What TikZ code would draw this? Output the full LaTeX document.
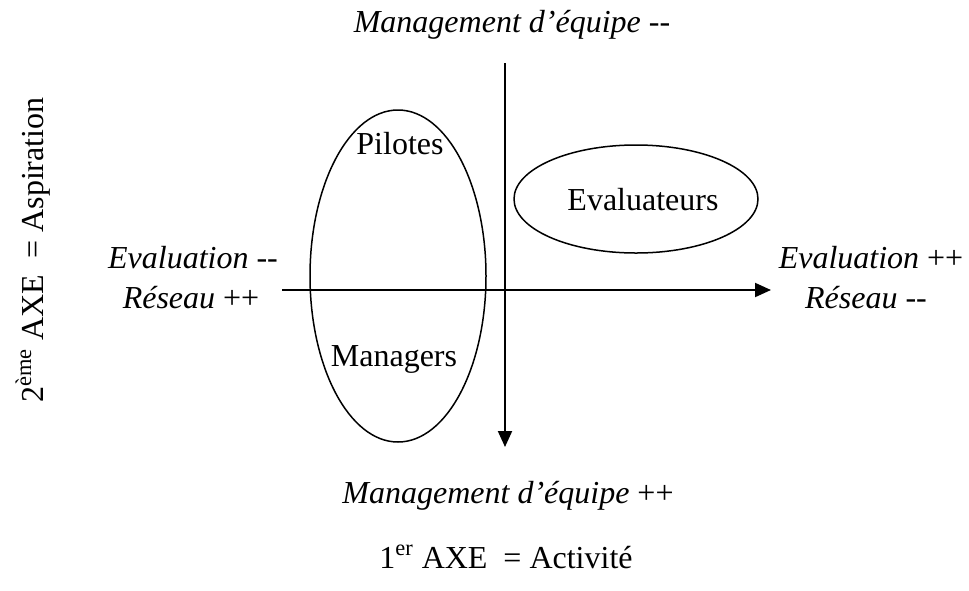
\documentclass[tikz,border=0pt]{standalone}
\usepackage{fontspec}
\setmainfont{Liberation Serif}
\usetikzlibrary{arrows.meta,shapes.geometric}
\newcommand{\sm}{\fontsize{16}{19}\selectfont}
\newcommand{\mm}{-{}-}

\begin{document}
\begin{tikzpicture}[x=0.5pt,y=-0.5pt,
  every node/.style={font=\sm,anchor=base},
  axis/.style={line width=1pt,-{Triangle[length=8pt,width=7pt]}},
  grp/.style={draw,ellipse,line width=0.75pt,inner sep=0pt,anchor=center}]
  \useasboundingbox (0,0) rectangle (969,590);
  % axes
  \coordinate (n) at (505,63);
  \coordinate (s) at (505,447);
  \coordinate (w) at (282,290);
  \coordinate (e) at (771,290);
  \draw[axis] (n) -- (s);
  \draw[axis] (w) -- (e);
  % groups
  \node[grp,minimum width=88pt,minimum height=166pt] (gauche) at (398,276) {};
  \node[grp,minimum width=122pt,minimum height=54pt] (droite) at (636,199) {};
  \node (pil) at (400,154) {Pilotes};
  \node (man) at (394,366) {Managers};
  \node (eva) at (643,210) {Evaluateurs};
  % pole labels
  \node (haut) at (512,32) {\textit{Management d'équipe} \mm};
  \node (bas) at (508,503) {\textit{Management d'équipe} ++};
  \node (ouest1) at (193,268) {\textit{Evaluation} \mm};
  \node (ouest2) at (191,308) {\textit{Réseau} ++};
  \node (est1) at (871,268) {\textit{Evaluation} ++};
  \node (est2) at (866,308) {\textit{Réseau} \mm};
  % axis titles
  \node (axe1) at (506,568) {1\textsuperscript{er} AXE\enspace= Activité};
  \node[rotate=90,anchor=center] (axe2) at (33,250) {2\textsuperscript{ème} AXE\enspace= Aspiration};
\end{tikzpicture}
\end{document}
